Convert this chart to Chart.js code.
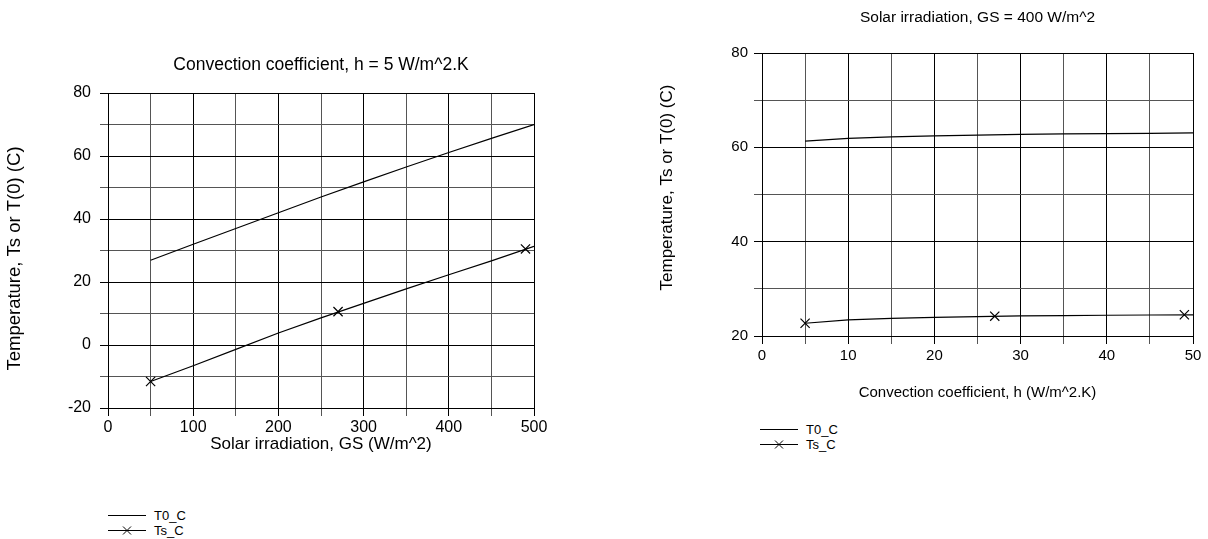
<!DOCTYPE html>
<html>
<head>
<meta charset="utf-8">
<script src="https://cdn.jsdelivr.net/npm/chart.js"></script>
<style>
  body { margin: 0; background: #fff; font-family: Arial, "Liberation Sans", sans-serif; }
  #page { position: relative; width: 1208px; height: 539px; overflow: hidden; }
  .box { position: absolute; }
  .legend { position: absolute; font-size: 13px; color: #000; line-height: 15px; }
  .legend div { display: flex; align-items: center; height: 15px; }
  .legend svg { margin-right: 8px; }
</style>
</head>
<body>
<div id="page">
  <div class="box" style="left:0; top:0; width:604px; height:470px;"><canvas id="chartGS"></canvas></div>
  <div class="box" style="left:604px; top:0; width:604px; height:420px;"><canvas id="chartH"></canvas></div>

  <div class="legend" style="left:108px; top:508px;">
    <div><svg width="38" height="15"><line x1="0" y1="7.5" x2="38" y2="7.5" stroke="#000"/></svg>T0_C</div>
    <div><svg width="38" height="15"><line x1="0" y1="7.5" x2="38" y2="7.5" stroke="#000"/><path d="M15 3.5 L23 11.5 M23 3.5 L15 11.5" stroke="#000"/></svg>Ts_C</div>
  </div>
  <div class="legend" style="left:760px; top:422px;">
    <div><svg width="38" height="15"><line x1="0" y1="7.5" x2="38" y2="7.5" stroke="#000"/></svg>T0_C</div>
    <div><svg width="38" height="15"><line x1="0" y1="7.5" x2="38" y2="7.5" stroke="#000"/><path d="M15 3.5 L23 11.5 M23 3.5 L15 11.5" stroke="#000"/></svg>Ts_C</div>
  </div>
</div>

<script>
// ---- chart 1: h = 5 W/m^2.K, sweep of solar irradiation
const gsValues = [50, 100, 150, 200, 250, 300, 350, 400, 450, 500];
const t0VsGs = [26.9, 32.0, 37.0, 42.0, 47.0, 51.8, 56.5, 61.1, 65.6, 70.0];
const tsVsGs = [-11.6, -6.6, -1.4, 3.8, 8.6, 13.2, 17.8, 22.3, 26.7, 31.3];
const tsMarkGs = [50, 270, 490];
const tsMarkGsVal = [-11.6, 10.6, 30.5];

// ---- chart 2: GS = 400 W/m^2, sweep of convection coefficient
const hValues = [5, 10, 15, 20, 25, 30, 35, 40, 45, 50];
const t0VsH = [61.3, 61.9, 62.2, 62.45, 62.6, 62.75, 62.85, 62.9, 62.97, 63.05];
const tsVsH = [22.7, 23.4, 23.75, 23.95, 24.1, 24.25, 24.33, 24.4, 24.45, 24.5];
const tsMarkH = [5, 27, 49];
const tsMarkHVal = [22.7, 24.2, 24.5];

const FONT = 'Arial, "Liberation Sans", sans-serif';
const Y_TITLE = 'Temperature, Ts or T(0) (C)';

function pairs(xs, ys) {
    return xs.map((x, i) => ({ x: x, y: ys[i] }));
}

// title centred over the plot area + rotated y title (the built-in ones centre on the whole box)
const plotTexts = {
    id: 'plotTexts',
    afterDraw(chart, args, o) {
        const { ctx, chartArea } = chart;
        ctx.save();
        ctx.fillStyle = '#000';
        ctx.textAlign = 'center';
        ctx.textBaseline = 'middle';
        ctx.font = o.titleSize + 'px ' + FONT;
        ctx.fillText(o.title, (chartArea.left + chartArea.right) / 2, o.titleY);
        ctx.translate(o.yTitleX, (chartArea.top + chartArea.bottom) / 2 + o.yTitleShift);
        ctx.rotate(-Math.PI / 2);
        ctx.font = o.yTitleSize + 'px ' + FONT;
        ctx.fillText(Y_TITLE, 0, 0);
        ctx.restore();
    }
};

// major grid line every "major" units black, the others dark grey
function gridStyle(major) {
    const pick = ctx => (ctx.tick && Math.abs(ctx.tick.value % major) < 1e-9) ? '#000' : '#555';
    return { color: pick, tickColor: pick, lineWidth: 1, tickLength: 8, drawTicks: true };
}

function buildChart(id, cfg) {
    const lineSet = (data) => ({
        type: 'line', data: data, borderColor: '#000', borderWidth: 1.2,
        pointRadius: 0, tension: 0, fill: false
    });
    return new Chart(document.getElementById(id), {
        type: 'line',
        plugins: [plotTexts],
        data: {
            datasets: [
                lineSet(pairs(cfg.xs, cfg.t0)),
                lineSet(pairs(cfg.xs, cfg.ts)),
                {
                    type: 'scatter', data: pairs(cfg.markX, cfg.markY), showLine: false,
                    pointStyle: 'crossRot', pointRadius: 6.5, borderColor: '#000', borderWidth: 1.2
                }
            ]
        },
        options: {
            responsive: true,
            maintainAspectRatio: false,
            animation: false,
            events: [],
            layout: { padding: { left: 0, right: cfg.padRight, top: cfg.padTop, bottom: 0 } },
            plugins: {
                legend: { display: false },
                tooltip: { enabled: false },
                title: { display: false },
                plotTexts: cfg.texts
            },
            scales: {
                x: {
                    type: 'linear', min: cfg.xMin, max: cfg.xMax,
                    afterFit: s => { s.height = cfg.xAxisH; },
                    border: { color: '#000' },
                    grid: gridStyle(cfg.xMajor),
                    ticks: {
                        stepSize: cfg.xStep, autoSkip: false, maxRotation: 0, padding: cfg.xTickPad, color: '#000',
                        font: { family: FONT, size: cfg.tickSize },
                        callback: v => (v % cfg.xMajor === 0 ? String(v) : '')
                    },
                    title: {
                        display: true, text: cfg.xTitle, color: '#000',
                        font: { family: FONT, size: cfg.axisTitleSize },
                        padding: { top: 0, bottom: cfg.xTitleBottom }
                    }
                },
                y: {
                    type: 'linear', min: cfg.yMin, max: cfg.yMax,
                    afterFit: s => { s.width = cfg.yAxisW; },
                    border: { color: '#000' },
                    grid: gridStyle(cfg.yMajor),
                    ticks: {
                        stepSize: cfg.yStep, autoSkip: false, padding: cfg.yTickPad, color: '#000',
                        font: { family: FONT, size: cfg.tickSize },
                        callback: v => (v % cfg.yMajor === 0 ? String(v) : '')
                    },
                    title: { display: false }
                }
            }
        }
    });
}

buildChart('chartGS', {
    xs: gsValues, t0: t0VsGs, ts: tsVsGs, markX: tsMarkGs, markY: tsMarkGsVal,
    texts: {
        title: 'Convection coefficient, h = 5 W/m^2.K', titleSize: 17.5, titleY: 65,
        yTitleSize: 18.5, yTitleX: 15, yTitleShift: 8
    },
    xTitle: 'Solar irradiation, GS (W/m^2)',
    xMin: 0, xMax: 500, xStep: 50, xMajor: 100,
    yMin: -20, yMax: 80, yStep: 10, yMajor: 20,
    padTop: 93, padRight: 70, xAxisH: 62, yAxisW: 108,
    tickSize: 16, axisTitleSize: 17,
    xTickPad: 2, yTickPad: 9, xTitleBottom: 15.5
});

buildChart('chartH', {
    xs: hValues, t0: t0VsH, ts: tsVsH, markX: tsMarkH, markY: tsMarkHVal,
    texts: {
        title: 'Solar irradiation, GS = 400 W/m^2', titleSize: 15.5, titleY: 18,
        yTitleSize: 17, yTitleX: 63, yTitleShift: -7
    },
    xTitle: 'Convection coefficient, h (W/m^2.K)',
    xMin: 0, xMax: 50, xStep: 5, xMajor: 10,
    yMin: 20, yMax: 80, yStep: 10, yMajor: 20,
    padTop: 53, padRight: 15, xAxisH: 84, yAxisW: 158,
    tickSize: 15, axisTitleSize: 15,
    xTickPad: 3, yTickPad: 6, xTitleBottom: 18
});
</script>
</body>
</html>
